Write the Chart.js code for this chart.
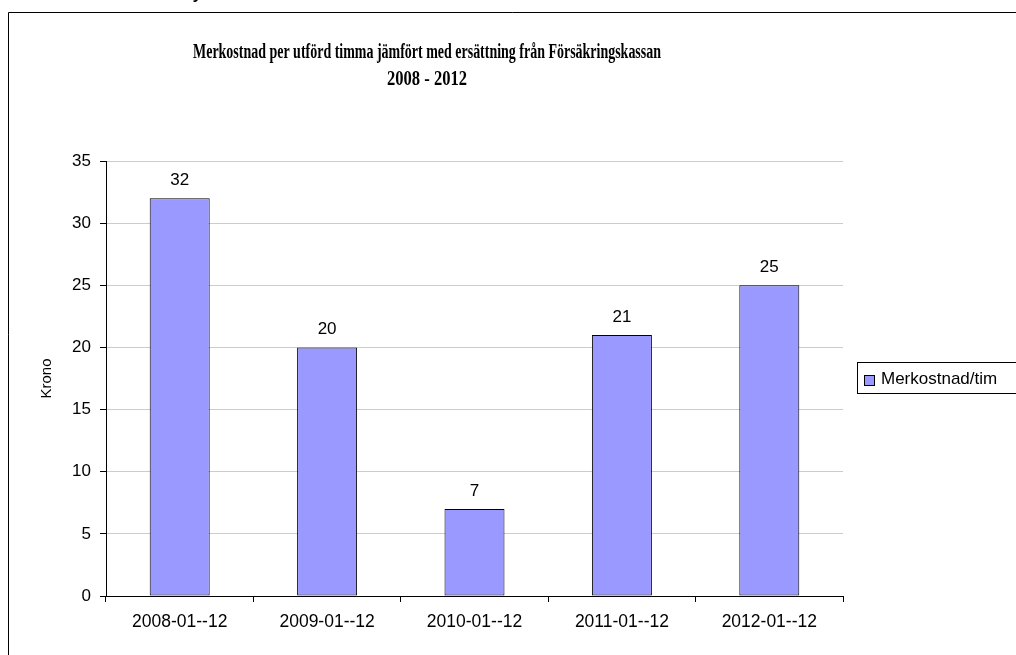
<!DOCTYPE html>
<html>
<head>
<meta charset="utf-8">
<script src="https://cdn.jsdelivr.net/npm/chart.js@4"></script>
<style>
  body { margin: 0; background: #fff; overflow: hidden; }
  #wrap { position: relative; width: 1016px; height: 655px; }
  #stray { position: absolute; left: 194px; top: -15px; font: italic bold 16px "Liberation Sans", Arial, sans-serif; color: #000; }
</style>
</head>
<body>
<div id="wrap">
  <canvas id="costChart"></canvas>
  <div id="stray">y</div>
</div>
<script>
// chart data
const categories = ['2008-01--12', '2009-01--12', '2010-01--12', '2011-01--12', '2012-01--12'];
const costPerHour = [32, 20, 7, 21, 25];
const seriesName = 'Merkostnad/tim';
const titleLines = ['Merkostnad per utförd timma jämfört med ersättning från Försäkringskassan', '2008 - 2012'];
const yAxisLabel = 'Krono';

const sansFont = '"Liberation Sans", Arial, sans-serif';
const barColor = '#9999ff';

// outer frame, title, legend and value labels
const decorPlugin = {
    id: 'decor',
    afterDraw(chart) {
        const ctx = chart.ctx;
        const area = chart.chartArea;
        ctx.save();

        // frame round the whole chart (right and bottom fall outside the window)
        ctx.strokeStyle = '#000';
        ctx.lineWidth = 1;
        ctx.beginPath();
        ctx.moveTo(8.5, chart.height + 5);
        ctx.lineTo(8.5, 12.5);
        ctx.lineTo(chart.width + 5, 12.5);
        ctx.stroke();

        // title, bold serif squeezed sideways like the original
        ctx.fillStyle = '#000';
        ctx.font = 'bold 20px "Liberation Serif", "Times New Roman", serif';
        ctx.textAlign = 'center';
        ctx.textBaseline = 'alphabetic';
        const titleX = 427;
        const lineY = [58, 85];
        const lineW = [468, 80];
        titleLines.forEach((line, i) => {
            const squeeze = lineW[i] / ctx.measureText(line).width;
            ctx.save();
            ctx.translate(titleX, lineY[i]);
            ctx.scale(squeeze, 1);
            ctx.fillText(line, 0, 0);
            ctx.restore();
        });

        // value labels above bars
        ctx.font = '17px ' + sansFont;
        chart.getDatasetMeta(0).data.forEach((bar, i) => {
            ctx.fillText(String(chart.data.datasets[0].data[i]), bar.x, bar.y - 13);
        });

        // legend box
        const lx = area.right + 14;
        const ly = 362;
        ctx.strokeRect(lx + 0.5, ly + 0.5, 200, 31);
        ctx.fillStyle = barColor;
        ctx.fillRect(lx + 7.5, ly + 13.5, 10, 10);
        ctx.strokeRect(lx + 7.5, ly + 13.5, 10, 10);
        ctx.fillStyle = '#000';
        ctx.textAlign = 'left';
        ctx.textBaseline = 'middle';
        ctx.fillText(chart.data.datasets[0].label, lx + 24, ly + 17);

        ctx.restore();
    }
};

const ctx = document.getElementById('costChart').getContext('2d');

new Chart(ctx, {
    type: 'bar',
    data: {
        labels: categories,
        datasets: [{
            label: seriesName,
            data: costPerHour,
            backgroundColor: barColor,
            borderColor: '#000',
            borderWidth: 1,
            borderSkipped: false,
            categoryPercentage: 1,
            barPercentage: 0.407
        }]
    },
    options: {
        responsive: true,
        maintainAspectRatio: false,
        animation: false,
        devicePixelRatio: 1,
        layout: {
            padding: { left: 9, right: 173, top: 161, bottom: 0 }
        },
        scales: {
            x: {
                grid: {
                    display: true,
                    drawOnChartArea: false,
                    color: '#000',
                    tickLength: 6,
                    offset: true
                },
                border: { color: '#000', width: 1 },
                ticks: {
                    color: '#000',
                    padding: 10,
                    maxRotation: 0,
                    font: { family: sansFont, size: 17.5 }
                },
                afterFit: (scale) => { scale.height = 59; }
            },
            y: {
                min: 0,
                max: 35,
                grid: {
                    color: '#cccccc',
                    tickColor: '#000',
                    tickLength: 6
                },
                border: { color: '#000', width: 1 },
                ticks: {
                    stepSize: 5,
                    color: '#000',
                    padding: 9,
                    font: { family: sansFont, size: 17 }
                },
                title: {
                    display: true,
                    text: yAxisLabel,
                    color: '#000',
                    padding: { top: 29, bottom: 0 },
                    font: { family: sansFont, size: 15 }
                },
                afterFit: (scale) => { scale.width = 97; }
            }
        },
        plugins: {
            legend: { display: false },
            title: { display: false },
            tooltip: { enabled: false }
        }
    },
    plugins: [decorPlugin]
});
</script>
</body>
</html>
